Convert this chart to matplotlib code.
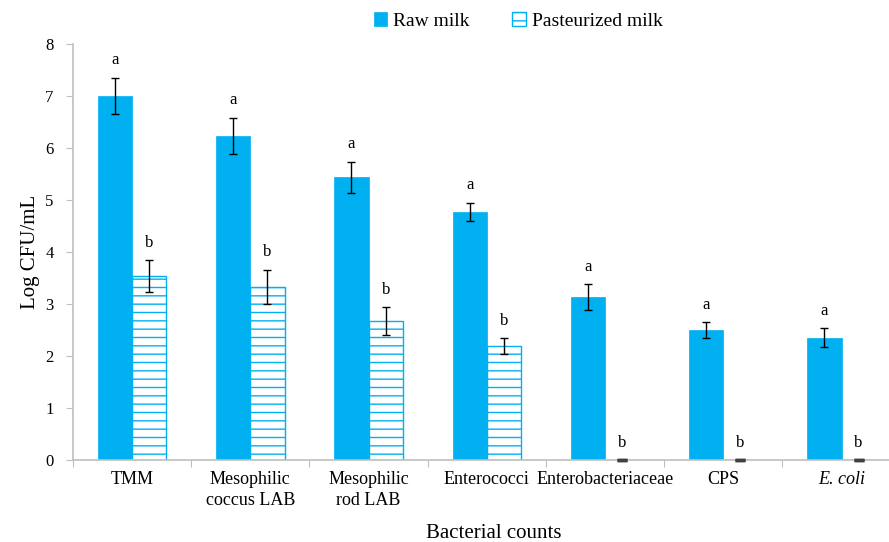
import numpy as np
import matplotlib.pyplot as plt

plt.rcParams['font.family'] = ['Liberation Serif', 'DejaVu Serif']
plt.rcParams['hatch.linewidth'] = 1.0

categories = ['TMM', 'Mesophilic\ncoccus LAB', 'Mesophilic\nrod LAB', 'Enterococci',
              'Enterobacteriaceae', 'CPS', 'E. coli']
raw_milk = [7.0, 6.23, 5.44, 4.77, 3.13, 2.5, 2.35]
raw_err = [0.35, 0.35, 0.3, 0.18, 0.25, 0.15, 0.18]
past_milk = [3.54, 3.33, 2.67, 2.19, 0.0, 0.0, 0.0]
past_err = [0.3, 0.33, 0.27, 0.15, 0.0, 0.0, 0.0]
raw_letters = ['a', 'a', 'a', 'a', 'a', 'a', 'a']
past_letters = ['b', 'b', 'b', 'b', 'b', 'b', 'b']

blue = '#00B0F0'
gray = '#BFBFBF'

fig = plt.figure(figsize=(8.89, 5.42), dpi=100)
ax = fig.add_axes([0.0821, 0.1513, 0.931, 0.7675])

x = np.arange(len(categories)) + 0.5
w = 0.29

ax.bar(x - w / 2, raw_milk, w, color=blue, edgecolor=blue, linewidth=0.5, label='Raw milk')
ax.bar(x + w / 2, past_milk, w, color='white', edgecolor=blue, hatch='--',
       linewidth=1.0, label='Pasteurized milk')

ax.errorbar(x - w / 2, raw_milk, yerr=raw_err, fmt='none', ecolor='black',
            elinewidth=1.0, capsize=3, capthick=1.0)
past_x = x + w / 2
nz = np.array(past_milk) > 0
ax.errorbar(past_x[nz], np.array(past_milk)[nz], yerr=np.array(past_err)[nz], fmt='none',
            ecolor='black', elinewidth=1.0, capsize=3, capthick=1.0)
# zero values: only a short dark dash on the baseline
ax.errorbar(past_x[~nz], np.array(past_milk)[~nz], yerr=np.array(past_err)[~nz], fmt='none',
            ecolor='#404040', elinewidth=1.0, capsize=3.5, capthick=2.5, zorder=5, clip_on=False)

for i in range(len(categories)):
    ax.text(x[i] - w / 2, raw_milk[i] + raw_err[i] + 0.18, raw_letters[i],
            ha='center', va='bottom', fontsize=12)
    ax.text(x[i] + w / 2, past_milk[i] + past_err[i] + 0.18, past_letters[i],
            ha='center', va='bottom', fontsize=12)

ax.set_xlim(0, 7)
ax.set_ylim(0, 8)
ax.set_yticks(range(0, 9))
ax.set_xticks(range(0, 8))
ax.set_xticklabels([])
ax.set_xticks(x, minor=True)
ax.set_xticklabels(categories, minor=True, fontsize=13, linespacing=1.3)
ax.tick_params(axis='x', which='minor', length=0, pad=8)
ax.tick_params(axis='x', which='major', length=5, color=gray, direction='out')
ax.tick_params(axis='y', length=5, color=gray, labelsize=12, pad=9)
ax.get_xticklabels(minor=True)[-1].set_style('italic')

for s in ['top', 'right']:
    ax.spines[s].set_visible(False)
for s in ['left', 'bottom']:
    ax.spines[s].set_color(gray)
    ax.spines[s].set_linewidth(1.2)

ax.set_ylabel('Log CFU/mL', fontsize=15, labelpad=4)
fig.text(0.555, 0.008, 'Bacterial counts', ha='center', va='baseline', fontsize=15)

fig.legend(loc='upper center', bbox_to_anchor=(0.583, 1.01), ncol=2, frameon=False,
           fontsize=14, handlelength=0.7, handleheight=0.7, handletextpad=0.3,
           columnspacing=2.2)

fig.savefig('out.png', dpi=100)
